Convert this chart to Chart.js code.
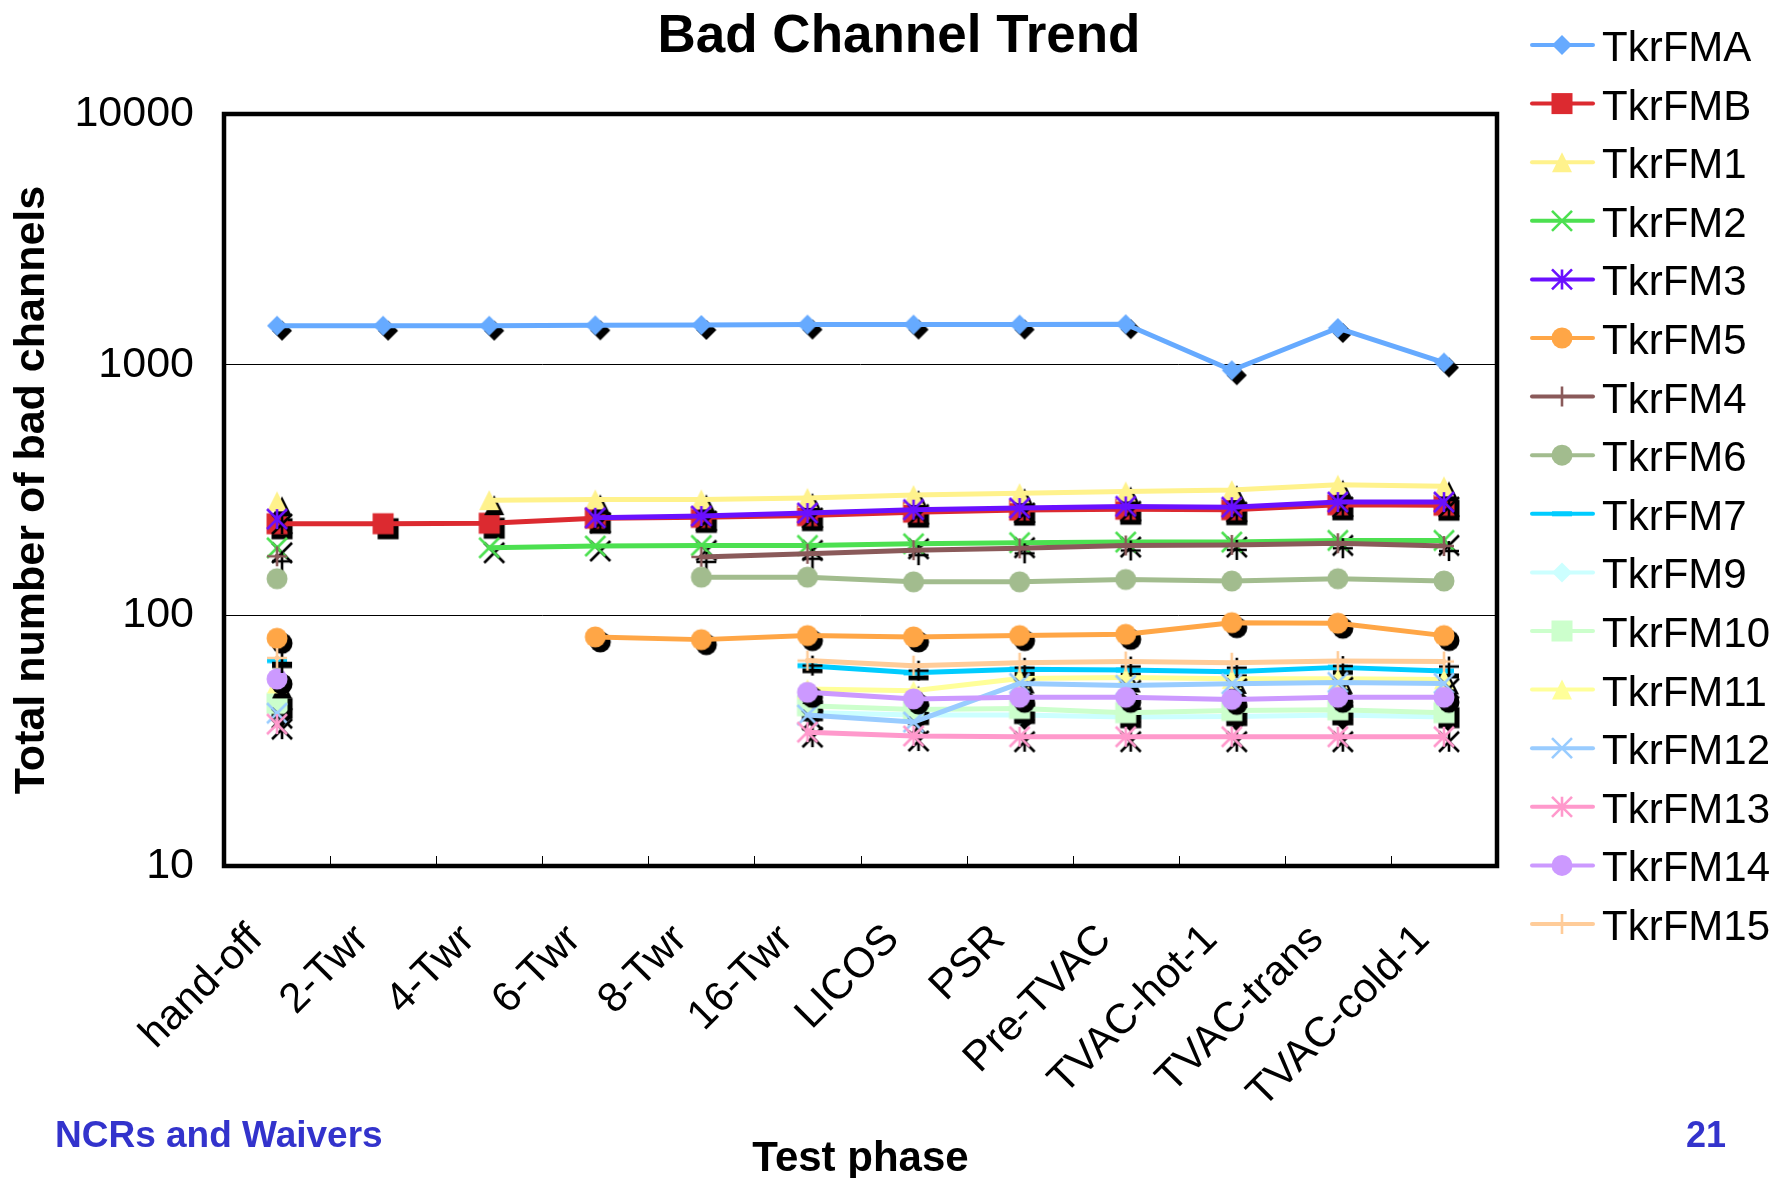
<!DOCTYPE html>
<html>
<head>
<meta charset="utf-8">
<title>Bad Channel Trend</title>
<script src="https://cdn.jsdelivr.net/npm/chart.js@4.4.1/dist/chart.umd.min.js"></script>
<style>
  html, body { margin: 0; padding: 0; background: #ffffff; overflow: hidden; }
  canvas { display: block; }
</style>
</head>
<body>
<canvas id="chart" width="1776" height="1178"></canvas>
<script>
// Test phases along the x axis
const phases = ['hand-off', '2-Twr', '4-Twr', '6-Twr', '8-Twr', '16-Twr', 'LICOS', 'PSR',
                'Pre-TVAC', 'TVAC-hot-1', 'TVAC-trans', 'TVAC-cold-1'];

// Bad channel counts per tracker module (null = not measured in that phase)
const tkrFMA  = [1430, 1430, 1430, 1435, 1440, 1445, 1445, 1445, 1450, 950, 1400, 1020];
const tkrFMB  = [232, 232, 233, 244, 246, 250, 258, 263, 265, 264, 276, 275];
const tkrFM1  = [285, null, 288, 290, 290, 294, 302, 307, 312, 316, 332, 327];
const tkrFM2  = [186, null, 186, 189, 190, 190, 193, 195, 196, 196, 199, 199];
const tkrFM3  = [242, null, null, 245, 249, 256, 264, 268, 272, 270, 283, 283];
const tkrFM5  = [81, null, null, 82, 80, 83, 82, 83, 84, 93.5, 93, 83];
const tkrFM4  = [172, null, null, null, 171, 176, 182, 185, 190, 191, 194, 189];
const tkrFM6  = [140, null, null, null, 142, 142, 136, 136, 139, 137, 140, 137];
const tkrFM7  = [66, null, null, null, null, 63, 59, 61, 60.5, 59.5, 62, 60];
const tkrFM9  = [41, null, null, null, null, 41, 40, 40, 39.3, 39.5, 40, 39.3];
const tkrFM10 = [44.5, null, null, null, null, 43.6, 42.1, 42.5, 40.9, 41.7, 42, 40.9];
const tkrFM11 = [53.5, null, null, null, null, 50.8, 50, 56, 56.5, 55.8, 55.8, 55.5];
const tkrFM12 = [40.7, null, null, null, null, 40, 37.5, 53.5, 52.5, 53.3, 54, 53.5];
const tkrFM13 = [36.8, null, null, null, null, 34.2, 33, 32.8, 32.8, 32.8, 32.8, 32.8];
const tkrFM14 = [55.7, null, null, null, null, 49.3, 46.4, 47.1, 47.1, 46.2, 47.1, 47.1];
const tkrFM15 = [67.6, null, null, null, null, 66, 63, 64.7, 65.4, 64.7, 65.7, 65.4];

// Decade tick labels on the log axis
const yTicks = [10, 100, 1000, 10000];

const seriesNames = ['TkrFMA', 'TkrFMB', 'TkrFM1', 'TkrFM2', 'TkrFM3', 'TkrFM5', 'TkrFM4', 'TkrFM6',
                     'TkrFM7', 'TkrFM9', 'TkrFM10', 'TkrFM11', 'TkrFM12', 'TkrFM13', 'TkrFM14', 'TkrFM15'];
const seriesValues = [tkrFMA, tkrFMB, tkrFM1, tkrFM2, tkrFM3, tkrFM5, tkrFM4, tkrFM6,
                      tkrFM7, tkrFM9, tkrFM10, tkrFM11, tkrFM12, tkrFM13, tkrFM14, tkrFM15];
const seriesColors = ['#66AAFF', '#DC2A30', '#FFF28C', '#4CE050', '#6A10FF', '#FFA646', '#8A5A5A', '#A2BC8E',
                      '#00CCFF', '#CCFFFF', '#CCFFCC', '#FFFF99', '#99CCFF', '#FF99CC', '#CC99FF', '#FFCC99'];
const seriesMarkers = ['diamond', 'square', 'triangle', 'cross', 'asterisk', 'circle', 'plus', 'circle',
                       'dash', 'diamond', 'square', 'triangle', 'cross', 'asterisk', 'circle', 'plus'];
// TkrFM6 markers are drawn flat, without the drop shadow
const seriesShadow = [true, true, true, true, true, true, true, false,
                      true, true, true, true, true, true, true, true];

const FONT = "'Liberation Sans', Arial, Helvetica, sans-serif";
Chart.defaults.font.family = FONT;
Chart.defaults.color = '#000000';

// Excel-style marker shapes
function drawMarker(g, shape, x, y, color) {
  const h = 10;
  g.save();
  g.fillStyle = color;
  g.strokeStyle = color;
  g.lineWidth = 2.6;
  g.lineCap = 'butt';
  g.beginPath();
  switch (shape) {
    case 'diamond':
      g.moveTo(x, y - h); g.lineTo(x + h, y); g.lineTo(x, y + h); g.lineTo(x - h, y);
      g.closePath(); g.fill(); break;
    case 'square':
      g.fillRect(x - 10.5, y - 10.5, 21, 21); break;
    case 'triangle':
      g.moveTo(x, y - h); g.lineTo(x + h, y + h); g.lineTo(x - h, y + h);
      g.closePath(); g.fill(); break;
    case 'circle':
      g.arc(x, y, 10.5, 0, Math.PI * 2); g.fill(); break;
    case 'cross':
      g.moveTo(x - h, y - h); g.lineTo(x + h, y + h);
      g.moveTo(x + h, y - h); g.lineTo(x - h, y + h); g.stroke(); break;
    case 'asterisk':
      g.moveTo(x - h, y - h); g.lineTo(x + h, y + h);
      g.moveTo(x + h, y - h); g.lineTo(x - h, y + h);
      g.moveTo(x, y - h); g.lineTo(x, y + h); g.stroke(); break;
    case 'plus':
      g.moveTo(x, y - h); g.lineTo(x, y + h);
      g.moveTo(x - h, y); g.lineTo(x + h, y); g.stroke(); break;
    case 'dash':
      g.fillRect(x - h, y - 2.5, 2 * h, 5); break;
  }
  g.restore();
}

function markerCanvas(shape, color) {
  const size = 28;
  const c = document.createElement('canvas');
  c.width = size; c.height = size;
  drawMarker(c.getContext('2d'), shape, size / 2, size / 2, color);
  return c;
}

const markerImages = seriesMarkers.map((m, i) => markerCanvas(m, seriesColors[i]));
const shadowImages = seriesMarkers.map(m => markerCanvas(m, '#000000'));

const datasets = seriesNames.map((name, i) => ({
  label: name,
  data: seriesValues[i],
  borderColor: seriesColors[i],
  backgroundColor: seriesColors[i],
  borderWidth: 5,
  borderCapStyle: 'round',
  borderJoinStyle: 'round',
  tension: 0,
  spanGaps: false,
  pointStyle: markerImages[i],
  pointRadius: 10,
  pointHoverRadius: 10,
  order: seriesNames.length - i
}));

// Drop shadow under each marker, drawn just before its series
const markerShadows = {
  id: 'markerShadows',
  beforeDatasetDraw(chart, args) {
    if (!seriesShadow[args.index]) return;
    const ctx = chart.ctx;
    const img = shadowImages[args.index];
    ctx.save();
    args.meta.data.forEach(el => {
      if (el.skip) return;
      ctx.drawImage(img, el.x + 5 - img.width / 2, el.y + 5 - img.height / 2);
    });
    ctx.restore();
  }
};

// Plot area border and category separator ticks
const plotFrame = {
  id: 'plotFrame',
  beforeDatasetsDraw(chart) {
    const { ctx, chartArea: a, scales } = chart;
    const x = scales.x;
    ctx.save();
    ctx.strokeStyle = '#000000';
    ctx.lineWidth = 1;
    for (let k = 1; k < phases.length; k++) {
      const px = Math.round((x.getPixelForValue(k - 1) + x.getPixelForValue(k)) / 2) + 0.5;
      ctx.beginPath();
      ctx.moveTo(px, a.bottom);
      ctx.lineTo(px, a.bottom - 10);
      ctx.stroke();
    }
    ctx.lineWidth = 4.5;
    ctx.strokeRect(a.left, a.top, a.right - a.left, a.bottom - a.top);
    ctx.restore();
  }
};

// Title, legend and slide footer
const decorations = {
  id: 'decorations',
  afterDraw(chart) {
    const ctx = chart.ctx;
    ctx.save();
    ctx.fillStyle = '#000000';
    ctx.font = 'bold 53px ' + FONT;
    ctx.textAlign = 'center';
    ctx.textBaseline = 'alphabetic';
    ctx.fillText('Bad Channel Trend', 899, 52);

    // legend
    const x0 = 1532, x1 = 1593, mx = 1562, tx = 1602;
    ctx.font = '42px ' + FONT;
    ctx.textAlign = 'left';
    chart.data.datasets.forEach((ds, i) => {
      const y = 45 + i * 58.6;
      ctx.strokeStyle = ds.borderColor;
      ctx.lineWidth = 4;
      ctx.lineCap = 'round';
      ctx.beginPath();
      ctx.moveTo(x0, y);
      ctx.lineTo(x1, y);
      ctx.stroke();
      drawMarker(ctx, seriesMarkers[i], mx, y, ds.borderColor);
      ctx.fillStyle = '#000000';
      ctx.textBaseline = 'alphabetic';
      ctx.fillText(ds.label, tx, y + 16);
    });

    // footer
    ctx.fillStyle = '#3333CC';
    ctx.font = 'bold 37px ' + FONT;
    ctx.textAlign = 'left';
    ctx.fillText('NCRs and Waivers', 55, 1147);
    ctx.font = 'bold 36px ' + FONT;
    ctx.fillText('21', 1686, 1147);
    ctx.restore();
  }
};

new Chart(document.getElementById('chart'), {
  type: 'line',
  data: { labels: phases, datasets },
  options: {
    responsive: false,
    animation: false,
    devicePixelRatio: 1,
    layout: { padding: { top: 114, right: 279, bottom: 0, left: 0 } },
    plugins: {
      legend: { display: false },
      title: { display: false },
      tooltip: { enabled: false }
    },
    scales: {
      x: {
        type: 'category',
        offset: true,
        grid: { display: false, drawTicks: false },
        border: { display: false },
        ticks: {
          autoSkip: false,
          maxRotation: 45,
          minRotation: 45,
          padding: 49,
          labelOffset: -21,
          color: '#000000',
          font: { size: 42 }
        },
        title: {
          display: true,
          text: 'Test phase',
          color: '#000000',
          font: { size: 42, weight: 'bold', lineHeight: 0.9 },
          padding: { top: 0, bottom: 0 }
        },
        afterFit(scale) { scale.height = 312; }
      },
      y: {
        type: 'logarithmic',
        min: 10,
        max: 10000,
        grid: { color: '#000000', lineWidth: 1, drawTicks: false },
        border: { display: false },
        afterBuildTicks(scale) { scale.ticks = yTicks.map(v => ({ value: v })); },
        ticks: {
          padding: 30,
          color: '#000000',
          font: { size: 43 },
          callback: v => String(v)
        },
        title: {
          display: true,
          text: 'Total number of bad channels',
          color: '#000000',
          font: { size: 43, weight: 'bold' },
          padding: { top: 6, bottom: 0 }
        },
        afterFit(scale) { scale.width = 224; }
      }
    }
  },
  plugins: [markerShadows, plotFrame, decorations]
});
</script>
</body>
</html>
